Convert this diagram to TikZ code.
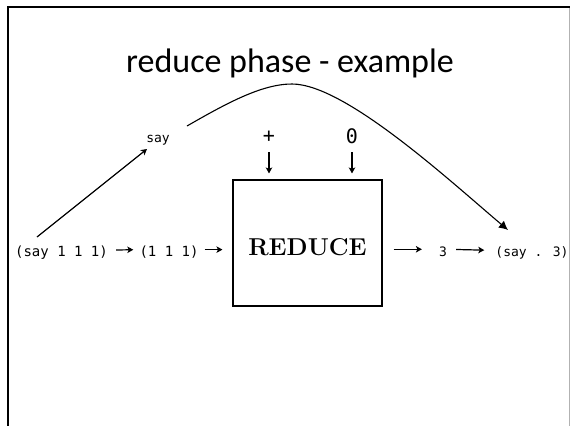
\documentclass[tikz,border=0pt]{standalone}
\usepackage{fontspec}
\newfontfamily\titlefont{Carlito}
\newfontfamily\codefont{DejaVu Sans Mono}
\usetikzlibrary{arrows.meta}
\tikzset{
  code/.style={inner sep=0pt, font=\codefont\fontsize{14}{16}\selectfont},
  codesm/.style={inner sep=0pt, font=\codefont\fontsize{13}{15}\selectfont},
  codebig/.style={inner sep=0pt, font=\codefont\fontsize{20}{22}\selectfont},
  arr/.style={line width=1.2pt, -{Stealth[length=6pt,width=6.5pt,inset=1.5pt]}},
  reducebox/.style={draw, line width=1.1pt, minimum width=149pt, minimum height=126pt,
    inner sep=0pt, text height=24pt, text depth=0pt, font=\fontsize{24.4}{29}\selectfont\bfseries},
}
\begin{document}
\begin{tikzpicture}[x=1pt,y=-1pt]
\useasboundingbox (0,0) rectangle (571,426);
\fill[white] (0,0) rectangle (571,426);
% slide frame
\draw[black!30, line width=1pt] (569.5,7) -- (569.5,426);
\draw[line width=2pt] (8,426) -- (8,7) -- (570,7);
% title
\node[anchor=base, inner sep=0pt, font=\titlefont\fontsize{34}{40}\selectfont] (title) at (290,72) {reduce phase - example};
% nodes
\node[code, anchor=base] (s1) at (61.5,256) {(say 1 1 1)};
\node[code, anchor=base] (s2) at (169,256) {(1 1 1)};
\node[reducebox] (box) at (307.5,243) {REDUCE};
\node[codesm, anchor=base] (three) at (443,256) {3};
\node[codesm, anchor=base] (out) at (532,256) {(say . 3)};
\node[codesm] (say) at (158,140) {say};
\node[codebig] (plus) at (269,137) {+};
\node[codebig] (zero) at (352,136) {0};
% connectors in the row
\draw[arr, shorten <=8pt, shorten >=6pt] ([yshift=2pt]s1.east) -- ([yshift=2pt]s2.west);
\draw[arr, shorten <=6pt, shorten >=10pt] ([yshift=2pt]s2.east) -- ([yshift=2pt]s2.east -| box.west);
\draw[arr, shorten <=11pt, shorten >=17pt] ([yshift=2pt]three.west -| box.east) -- ([yshift=2pt]three.west);
\draw[arr, shorten <=9pt, shorten >=11pt] ([yshift=2pt]three.east) -- ([yshift=2pt]out.west);
% inputs to REDUCE
\draw[arr, shorten <=15pt, shorten >=6pt] (plus.center) -- (plus.center |- box.north);
\draw[arr, shorten <=16pt, shorten >=6pt] (zero.center) -- (zero.center |- box.north);
% diagonal to say
\coordinate (d0) at (37,237);
\draw[arr] (d0) -- ([shift={(-11pt,-9pt)}]say.center);
% big curve
\coordinate (c0) at (187,126);
\coordinate (c1) at (508,230);
\draw[line width=1.1pt, -{Latex[length=9pt,width=9pt]}] (c0) .. controls (227,103) and (262,84) .. (292,84)
  .. controls (345,84) and (450,181) .. (c1);
\end{tikzpicture}
\end{document}
